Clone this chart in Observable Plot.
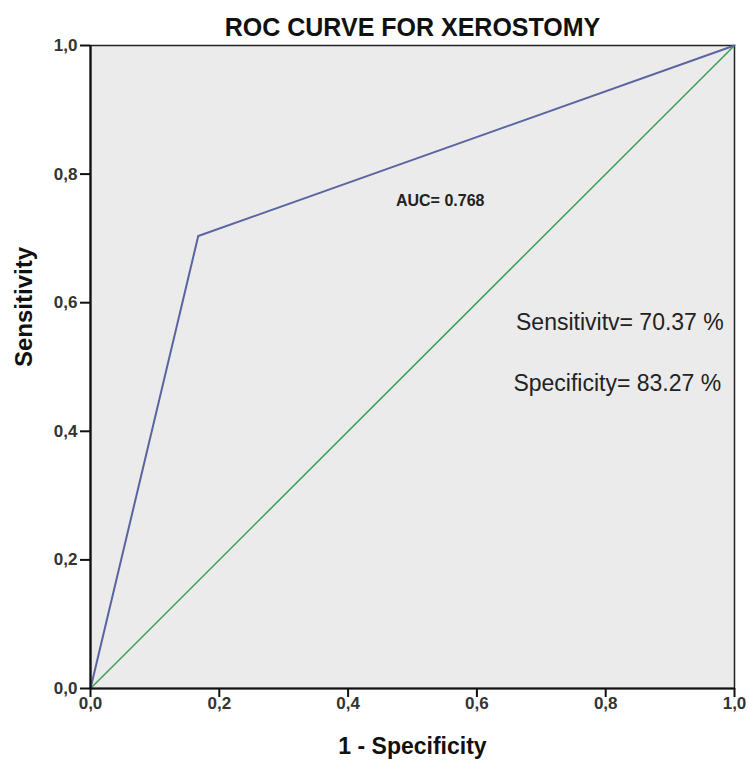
<!DOCTYPE html>
<html><head><meta charset="utf-8">
<script src="https://cdn.jsdelivr.net/npm/d3@7"></script>
<script src="https://cdn.jsdelivr.net/npm/@observablehq/plot@0.6"></script>
<style>
body{margin:0;background:#fff;font-family:"Liberation Sans",Arial,sans-serif;}
svg{font-family:"Liberation Sans",Arial,sans-serif;}
</style></head>
<body><div id="chart"></div>
<script>
const title = "ROC CURVE FOR XEROSTOMY";
const xLabel = "1 - Specificity";
const yLabel = "Sensitivity";
const ticks = [0, 0.2, 0.4, 0.6, 0.8, 1.0];
const tickLabels = ["0,0", "0,2", "0,4", "0,6", "0,8", "1,0"];
// ROC curve points (1 - specificity, sensitivity)
const rocX = [0, 0.1673, 1];
const rocY = [0, 0.7037, 1];
// reference diagonal
const refX = [0, 1];
const refY = [0, 1];
// annotations
const annText = ["AUC= 0.768", "Sensitivitv= 70.37 %", "Specificity= 83.27 %"];
const annX = [0.543, 0.822, 0.818];
const annY = [0.759, 0.569, 0.474];

const roc = rocX.map((x, i) => ({x, y: rocY[i]}));
const ref = refX.map((x, i) => ({x, y: refY[i]}));
const ann = annText.map((t, i) => ({t, x: annX[i], y: annY[i]}));
const tk = ticks.map((v, i) => ({v, l: tickLabels[i]}));

const chart = Plot.plot({
  width: 748, height: 763,
  marginLeft: 90, marginRight: 14, marginTop: 45, marginBottom: 75,
  style: {background: "#fff", fontFamily: "Liberation Sans, Arial, sans-serif", fontSize: "15px"},
  x: {domain: [0, 1]},
  y: {domain: [0, 1]},
  marks: [
    Plot.frame({fill: "#ebebeb", stroke: "#222", strokeWidth: 1.5}),
    Plot.line(ref, {x: "x", y: "y", stroke: "#3e9e58", strokeWidth: 1.5}),
    Plot.line(roc, {x: "x", y: "y", stroke: "#5a64a0", strokeWidth: 2}),
    Plot.ruleX([0], {stroke: "#111", strokeWidth: 2.2}),
    Plot.ruleY([0], {stroke: "#111", strokeWidth: 2.2}),
    Plot.axisX({ticks, text: null, label: null, tickSize: 9, stroke: "#111", strokeWidth: 2}),
    Plot.axisY({ticks, text: null, label: null, tickSize: 10, stroke: "#111", strokeWidth: 2}),
    Plot.text(tk, {x: "v", frameAnchor: "bottom", text: "l", dy: 20, fontSize: 17, fontWeight: "bold", fill: "#333"}),
    Plot.text(tk, {y: "v", frameAnchor: "left", text: "l", dx: -13, textAnchor: "end", fontSize: 17, fontWeight: "bold", fill: "#333"}),
    Plot.text([ann[0]], {x: "x", y: "y", text: "t", fontSize: 16, fontWeight: "bold", fill: "#222"}),
    Plot.text(ann.slice(1), {x: "x", y: "y", text: "t", fontSize: 23, fill: "#222"}),
    Plot.text([title], {frameAnchor: "top", lineAnchor: "middle", dy: -18, fontSize: 25, fontWeight: "bold", fill: "#111"}),
    Plot.text([xLabel], {frameAnchor: "bottom", lineAnchor: "middle", dy: 58, fontSize: 23, fontWeight: "bold", fill: "#111"}),
    Plot.text([yLabel], {frameAnchor: "left", rotate: -90, dx: -66, fontSize: 24, fontWeight: "bold", fill: "#111"})
  ]
});
document.getElementById("chart").appendChild(chart);
</script></body></html>
